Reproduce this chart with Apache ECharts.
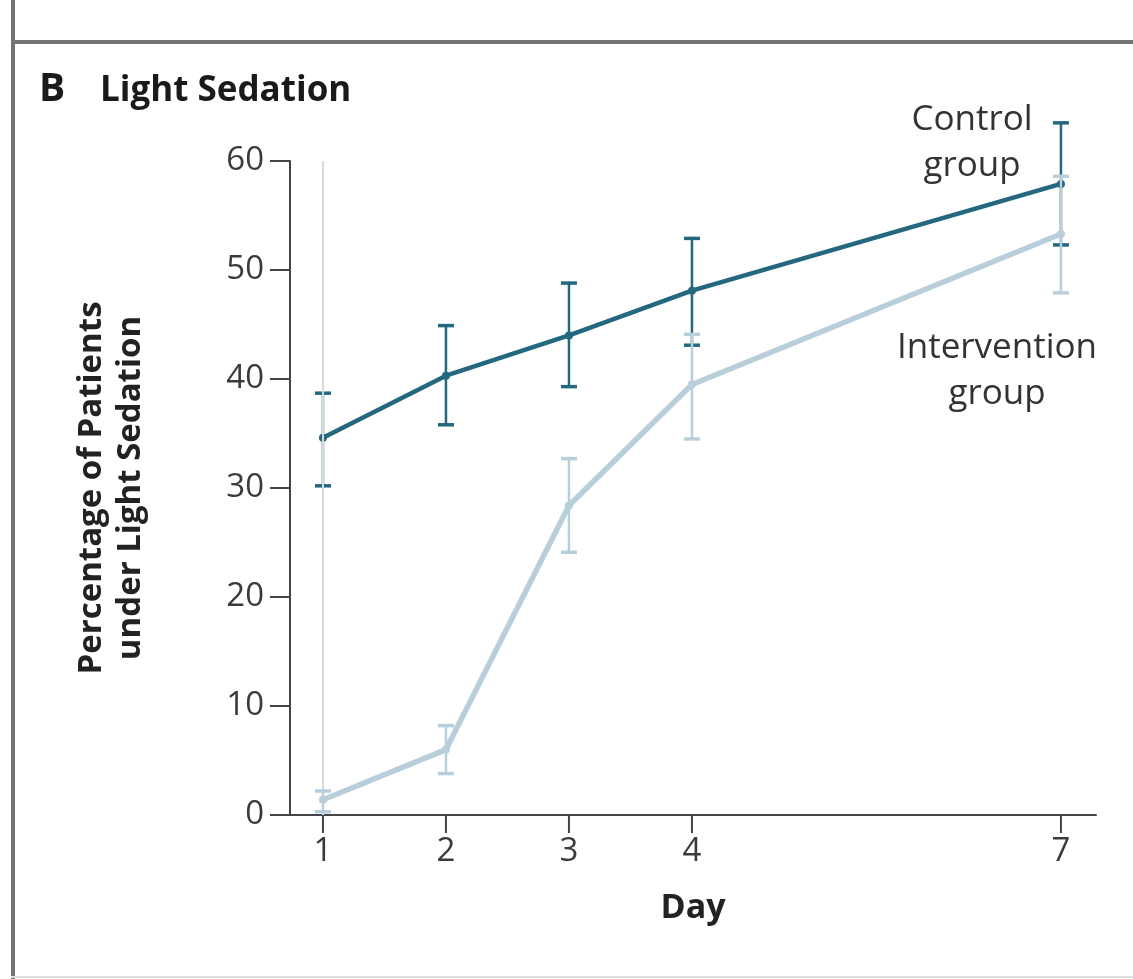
<!DOCTYPE html>
<html>
<head>
<meta charset="utf-8">
<script src="https://cdn.jsdelivr.net/npm/echarts@6/dist/echarts.min.js"></script>
<style>
html,body{margin:0;padding:0;background:#fff;}
#c{width:1133px;height:979px;}
</style>
</head>
<body>
<div id="c"></div>
<script>
const days = [1, 2, 3, 4, 7];
const controlMean = [34.6, 40.3, 44.0, 48.1, 57.9];
const controlLow  = [30.2, 35.8, 39.3, 43.1, 52.3];
const controlHigh = [38.7, 44.9, 48.8, 52.9, 63.5];
const interMean = [1.4, 6.0, 28.4, 39.5, 53.3];
const interLow  = [0.3, 3.8, 24.1, 34.5, 47.9];
const interHigh = [2.2, 8.2, 32.7, 44.1, 58.6];
const yTicks = [0, 10, 20, 30, 40, 50, 60];

const FONT = 'Open Sans';
const cDark = '#23687f';
const cLight = '#b8cfdb';

function pairs(xs, ys){ return xs.map((x,i)=>[x, ys[i]]); }
function errData(xs, lo, hi){ return xs.map((x,i)=>[x, lo[i], hi[i]]); }
function errRender(color, capW, lw){
  return function(params, api){
    const x = api.value(0);
    const top = api.coord([x, api.value(2)]);
    const bot = api.coord([x, api.value(1)]);
    const st = {stroke: color, lineWidth: lw};
    return {type:'group', children:[
      {type:'line', shape:{x1:top[0], y1:top[1], x2:bot[0], y2:bot[1]}, style:st},
      {type:'line', shape:{x1:top[0]-capW/2, y1:top[1], x2:top[0]+capW/2, y2:top[1]}, style:{stroke:color, lineWidth:lw+1}},
      {type:'line', shape:{x1:bot[0]-capW/2, y1:bot[1], x2:bot[0]+capW/2, y2:bot[1]}, style:{stroke:color, lineWidth:lw+1}}
    ]};
  };
}

const chart = echarts.init(document.getElementById('c'), null, {renderer:'canvas'});
chart.setOption({
  animation:false,
  backgroundColor:'#fff',
  textStyle:{fontFamily:FONT},
  grid:{left:290, right:37, top:161, bottom:164},
  xAxis:{
    type:'value', min:0.732, max:7.285,
    axisLine:{show:true, lineStyle:{color:'#444', width:2}},
    axisTick:{show:false},
    axisLabel:{customValues: days, color:'#3a3a3a', fontSize:33, fontFamily:FONT, margin:20, showMinLabel:true, showMaxLabel:true},
    splitLine:{show:false},
    name:'Day', nameLocation:'middle', nameGap:76,
    nameTextStyle:{fontSize:34, fontWeight:'bold', color:'#222', fontFamily:FONT}
  },
  yAxis:{
    type:'value', min:0, max:60, interval:10,
    axisLine:{show:true, lineStyle:{color:'#444', width:2}},
    axisTick:{show:true, length:20, lineStyle:{color:'#444', width:2}},
    axisLabel:{customValues: yTicks, color:'#3a3a3a', fontSize:33, fontFamily:FONT, margin:26},
    splitLine:{show:false},
    name:'Percentage of Patients\nunder Light Sedation', nameLocation:'middle', nameGap:140,
    nameTextStyle:{fontSize:33, fontWeight:'bold', color:'#222', fontFamily:FONT, lineHeight:39}
  },
  series:[
    {
      type:'scatter', data: days.map(d=>[d, 0]), symbol:'rect', symbolSize:[2, 18], symbolOffset:[0, 9],
      itemStyle:{color:'#444', opacity:1}, clip:false, silent:true, z:20, zlevel:1
    },
    {
      type:'line', data: pairs(days, controlMean), symbol:'circle', symbolSize:8,
      lineStyle:{color:cDark, width:4.5}, itemStyle:{color:cDark}, z:3,
      markLine:{silent:true, symbol:'none', label:{show:false},
        lineStyle:{color:'#d8d8d8', width:2, type:'solid'},
        data:[{xAxis: days[0]}]}
    },
    {type:'custom', data: errData(days, controlLow, controlHigh), renderItem: errRender(cDark, 16, 2.5), z:4},
    {type:'line', data: pairs(days, interMean), symbol:'circle', symbolSize:8,
      lineStyle:{color:cLight, width:5.5}, itemStyle:{color:cLight}, z:5},
    {type:'custom', data: errData(days, interLow, interHigh), renderItem: errRender(cLight, 16, 2.5), z:6}
  ],
  graphic:[
    {type:'rect', shape:{x:11, y:0, width:4, height:979}, style:{fill:'#747474'}, silent:true},
    {type:'rect', shape:{x:11, y:40, width:1122, height:4}, style:{fill:'#747474'}, silent:true},
    {type:'rect', shape:{x:11, y:976, width:1122, height:2}, style:{fill:'#dcdcdc'}, silent:true},
    {type:'text', left:39, top:70, style:{text:'B', font:'bold 39px "'+FONT+'"', fill:'#1a1a1a'}},
    {type:'text', left:100, top:74, style:{text:'Light Sedation', font:'bold 35px "'+FONT+'"', fill:'#1a1a1a'}},
    {type:'text', x:972, y:97, style:{text:'Control\ngroup', font:'35px "'+FONT+'"', fill:'#333', align:'center', lineHeight:46}},
    {type:'text', x:997, y:325, style:{text:'Intervention\ngroup', font:'35px "'+FONT+'"', fill:'#333', align:'center', lineHeight:46}}
  ]
});
</script>
</body>
</html>
